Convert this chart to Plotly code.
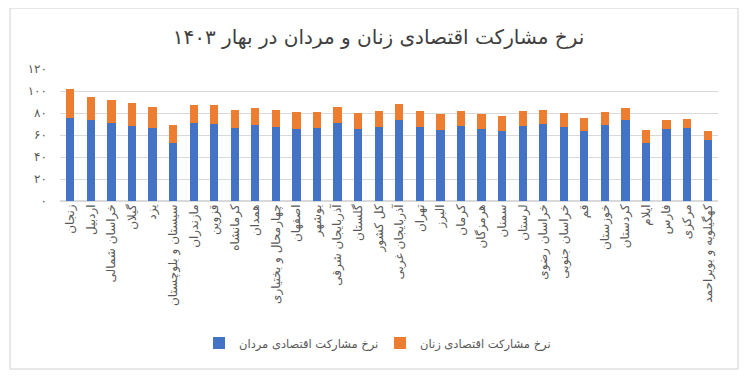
import plotly.graph_objects as go

provinces = ["زنجان", "اردبیل", "خراسان شمالی", "گیلان", "یزد", "سیستان و بلوچستان",
             "مازندران", "قزوین", "کرمانشاه", "همدان", "چهارمحال و بختیاری", "اصفهان",
             "بوشهر", "آذربایجان شرقی", "گلستان", "کل کشور", "آذربایجان غربی", "تهران",
             "البرز", "کرمان", "هرمزگان", "سمنان", "لرستان", "خراسان رضوی", "خراسان جنوبی",
             "قم", "خوزستان", "کردستان", "ایلام", "فارس", "مرکزی", "کهگیلویه و بویراحمد"]

men = [75.8, 73.6, 70.9, 68.2, 66.4, 52.7, 70.9, 70.3, 66.4, 69.1, 67.3, 65.5,
       66.4, 70.9, 65.5, 67.3, 73.6, 67.3, 64.5, 68.2, 65.5, 63.6, 68.2, 70.0,
       67.3, 63.6, 69.1, 73.6, 52.7, 65.5, 66.4, 55.5]

women = [26.0, 21.2, 20.9, 20.9, 19.4, 16.7, 16.7, 17.3, 16.3, 15.4, 15.4, 15.4,
         14.5, 14.6, 14.5, 14.5, 14.6, 14.5, 14.6, 13.6, 13.6, 13.7, 13.6, 12.7,
         12.7, 11.9, 11.8, 10.9, 11.8, 8.1, 8.1, 8.1]

y_ticks = [0, 20, 40, 60, 80, 100, 120]
y_tick_labels = ["۰", "۲۰", "۴۰", "۶۰", "۸۰", "۱۰۰", "۱۲۰"]

title_text = "نرخ مشارکت اقتصادی زنان و مردان در بهار ۱۴۰۳"
men_name = "نرخ مشارکت اقتصادی مردان"
women_name = "نرخ مشارکت اقتصادی زنان"

FONT = "DejaVu Sans"
TXT = "#595959"

fig = go.Figure()
fig.add_trace(go.Bar(x=provinces, y=men, name=men_name, marker_color="#4472C4",
                     marker_line_width=0))
fig.add_trace(go.Bar(x=provinces, y=women, name=women_name, marker_color="#ED7D31",
                     marker_line_width=0))

# page body adds an 8px offset; figure coordinates = screen - 8
OFF = 8
W, H = 741, 368
L, T = 60 - OFF, 69 - OFF
R = W - (718 - OFF)
B = H - (201 - OFF)
pw, ph = W - L - R, H - T - B


def px_y(screen_y):
    return ((201 - OFF) - (screen_y - OFF)) / ph


def px_x(screen_x):
    return (screen_x - 60) / pw


fig.update_layout(
    width=W, height=H,
    barmode="stack", bargap=0.6,
    paper_bgcolor="white", plot_bgcolor="white",
    margin=dict(l=L, r=R, t=T, b=B, autoexpand=False),
    font=dict(family=FONT, color=TXT),
    title=dict(text=title_text, x=0.5, xanchor="center", y=1 - (37 - OFF) / H, yanchor="middle",
               font=dict(size=20, color="#404040", family=FONT)),
    legend=dict(orientation="h", x=px_x(199), xanchor="left", y=px_y(343), yanchor="middle",
                font=dict(size=11.5, color=TXT, family=FONT), traceorder="normal",
                entrywidth=136, entrywidthmode="pixels", itemwidth=30),
    xaxis=dict(tickangle=-90, tickfont=dict(size=12, color=TXT, family=FONT),
               showgrid=False, showline=False, ticks=""),
    yaxis=dict(range=[0, 120], tickvals=y_ticks, ticktext=y_tick_labels,
               tickfont=dict(size=12, color=TXT, family=FONT),
               gridcolor="#D9D9D9", gridwidth=1, zeroline=True, zerolinecolor="#D9D9D9",
               showline=False, ticks="", ticklabelstandoff=12),
    shapes=[dict(type="rect", xref="paper", yref="paper",
                 x0=(10 - 60) / pw, x1=(738 - 60) / pw,
                 y0=px_y(369), y1=px_y(8),
                 line=dict(color="#D0D0D0", width=1), fillcolor="rgba(0,0,0,0)", layer="above")],
)

fig.write_html("out.html")
